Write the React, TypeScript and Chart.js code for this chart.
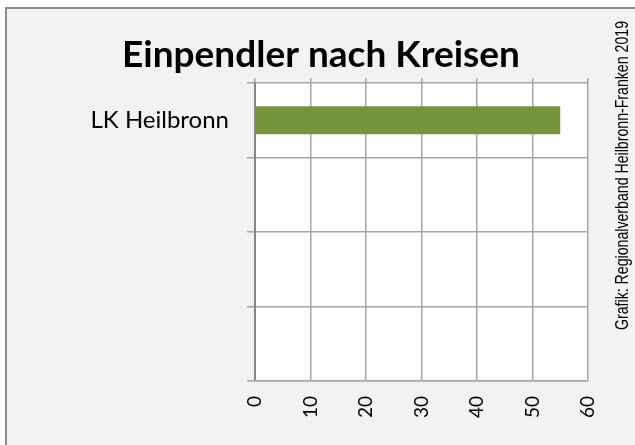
import React, { useEffect, useRef } from "react";
import { Chart, registerables } from "chart.js";

Chart.register(...registerables);

const categories = ["LK Heilbronn", "", "", ""];
const values: (number | null)[] = [55, null, null, null];
const xMin = 0;
const xMax = 60;
const xStep = 10;
const titleText = "Einpendler nach Kreisen";
const sourceText = "Grafik: Regionalverband Heilbronn-Franken 2019";

const bgPlugin = {
  id: "bgPlugin",
  beforeDraw(chart: any) {
    const { ctx, width, height, chartArea } = chart;
    ctx.save();
    ctx.fillStyle = "#ffffff";
    ctx.fillRect(0, 0, width, height);
    ctx.fillStyle = "#f2f2f2";
    ctx.fillRect(6, 8, width - 6, height - 8);
    ctx.strokeStyle = "#8c8c8c";
    ctx.lineWidth = 2;
    ctx.beginPath();
    ctx.moveTo(6, height);
    ctx.lineTo(6, 8);
    ctx.lineTo(width, 8);
    ctx.stroke();
    ctx.fillStyle = "#ffffff";
    ctx.fillRect(chartArea.left, chartArea.top, chartArea.right - chartArea.left, chartArea.bottom - chartArea.top);
    ctx.restore();
  },
  afterDraw(chart: any) {
    const { ctx } = chart;
    ctx.save();
    ctx.translate(623, 330);
    ctx.rotate(-Math.PI / 2);
    ctx.fillStyle = "#000000";
    ctx.font = "18px 'Liberation Sans', Arial, sans-serif";
    ctx.textAlign = "left";
    ctx.textBaseline = "middle";
    ctx.fillText(sourceText, 0, 0, 309);
    ctx.restore();
  },
};

export default function App() {
  const ref = useRef<HTMLCanvasElement>(null);
  useEffect(() => {
    if (!ref.current) return;
    const chart = new Chart(ref.current, {
      type: "bar",
      data: {
        labels: categories,
        datasets: [
          {
            data: values,
            backgroundColor: "#77933c",
            borderWidth: 0,
            barPercentage: 0.375,
            categoryPercentage: 1,
          },
        ],
      },
      options: {
        indexAxis: "y",
        animation: false,
        responsive: false,
        devicePixelRatio: 1,
        layout: { padding: { left: 7, right: 0, top: 8, bottom: 0 } },
        plugins: {
          legend: { display: false },
          tooltip: { enabled: false },
          title: {
            display: true,
            text: titleText,
            color: "#000000",
            font: { family: "Lato", size: 37, weight: "bold", lineHeight: 1.2 },
            padding: { top: 24.8, bottom: 0.8 },
          },
        },
        scales: {
          y: {
            type: "category",
            position: "left",
            grid: {
              offset: true,
              color: "#a6a6a6",
              lineWidth: 1.5,
              tickLength: 8,
              drawTicks: true,
            },
            border: { color: "#868686", width: 2 },
            ticks: {
              color: "#000000",
              font: { family: "Lato", size: 24 },
              padding: 18,
            },
            afterFit(scale: any) {
              scale.width = 248;
            },
          },
          x: {
            type: "linear",
            position: "bottom",
            min: xMin,
            max: xMax,
            grid: { color: "#a6a6a6", lineWidth: 1.5, drawTicks: false },
            border: { color: "#a6a6a6", width: 1.5 },
            ticks: {
              stepSize: xStep,
              color: "#000000",
              font: { family: "Lato", size: 19 },
              minRotation: 90,
              maxRotation: 90,
              padding: 15,
            },
            afterFit(scale: any) {
              scale.height = 64;
            },
          },
          x2: {
            type: "linear",
            position: "top",
            min: xMin,
            max: xMax,
            grid: { color: "#a6a6a6", lineWidth: 1.5, drawOnChartArea: false, tickLength: 5 },
            border: { display: false },
            ticks: { stepSize: xStep, display: false },
            afterFit(scale: any) {
              scale.height = 5;
            },
          },
          yr: {
            type: "linear",
            position: "right",
            display: true,
            grid: { display: false },
            border: { display: false },
            ticks: { display: false },
            afterFit(scale: any) {
              scale.width = 47;
            },
          },
        },
      },
      plugins: [bgPlugin],
    } as any);
    return () => chart.destroy();
  }, []);
  return (
    <div style={{ position: "fixed", left: 0, top: 0, width: 635, height: 445 }}>
      <canvas ref={ref} width={635} height={445} />
    </div>
  );
}
